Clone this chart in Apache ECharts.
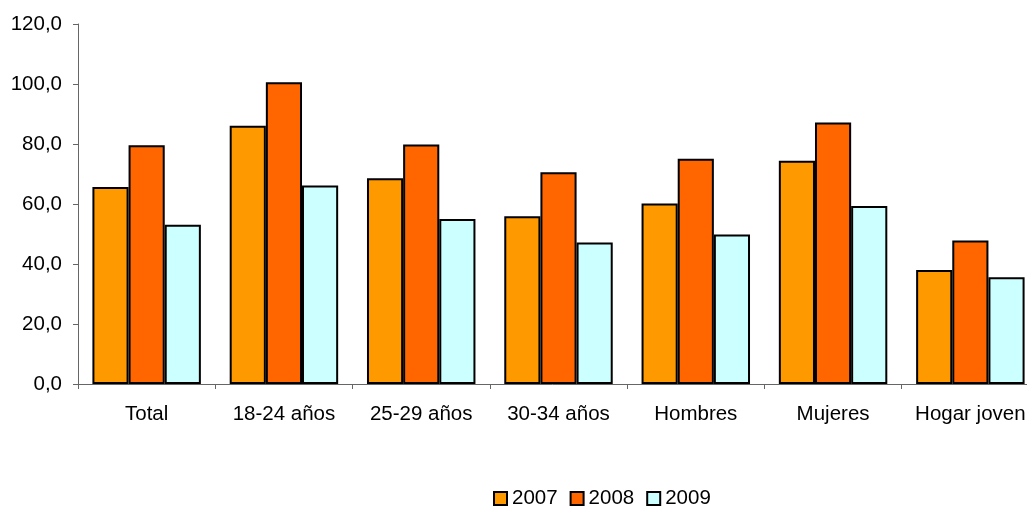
<!DOCTYPE html>
<html><head><meta charset="utf-8">
<script src="https://cdn.jsdelivr.net/npm/echarts@6/dist/echarts.min.js"></script>
<style>html,body{margin:0;padding:0;background:#fff;overflow:hidden}#c{width:1027px;height:507px}</style>
</head><body><div id="c"></div>
<script>
const categories = ['Total', '18-24 años', '25-29 años', '30-34 años', 'Hombres', 'Mujeres', 'Hogar joven'];
const s2007 = [65.7, 86.1, 68.6, 55.9, 60.2, 74.4, 38.0];
const s2008 = [79.6, 100.6, 79.8, 70.6, 75.1, 87.2, 47.8];
const s2009 = [53.1, 66.2, 55.0, 47.2, 49.8, 59.3, 35.6];
const seriesNames = ['2007', '2008', '2009'];
const colors = ['#FF9900', '#FF6600', '#CCFFFF'];
const yTicks = {min: 0, max: 120, interval: 20};

const font = 'Liberation Sans, Arial, sans-serif';
const chart = echarts.init(document.getElementById('c'), null, {renderer: 'canvas'});
const data = [s2007, s2008, s2009];
chart.setOption({
  animation: false,
  grid: {left: 78, top: 24, height: 360, width: 961, containLabel: false, outerBoundsMode: 'none'},
  legend: {
    data: seriesNames, left: 493, top: 488, padding: 0, itemWidth: 13, itemHeight: 13, itemGap: 12,
    icon: 'rect',
    textStyle: {fontSize: 20.5, fontFamily: font, color: '#000'},
    itemStyle: {borderColor: '#000', borderWidth: 2}
  },
  xAxis: {
    type: 'category', data: categories,
    axisLine: {lineStyle: {color: '#666', width: 1}},
    axisTick: {show: true, length: 5, alignWithLabel: false, lineStyle: {color: '#666'}},
    axisLabel: {fontSize: 20.5, fontFamily: font, color: '#000', margin: 20, interval: 0, hideOverlap: false}
  },
  yAxis: {
    type: 'value', min: yTicks.min, max: yTicks.max, interval: yTicks.interval,
    axisLine: {show: true, lineStyle: {color: '#666', width: 1}},
    axisTick: {show: true, length: 5, lineStyle: {color: '#666'}},
    splitLine: {show: false},
    axisLabel: {fontSize: 20.5, fontFamily: font, color: '#000', margin: 16,
      formatter: v => v.toFixed(1).replace('.', ',')}
  },
  series: seriesNames.map((n, i) => ({
    name: n, type: 'bar', data: data[i], barGap: '0%', barCategoryGap: '21%',
    itemStyle: {color: colors[i], borderColor: '#000', borderWidth: 2}
  }))
});
</script></body></html>
